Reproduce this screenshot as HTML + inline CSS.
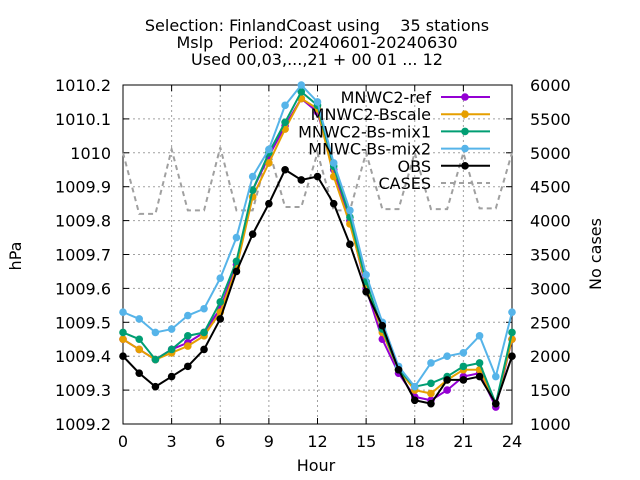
<!DOCTYPE html>
<html><head><meta charset="utf-8"><style>
body{margin:0;background:#fff}
svg{display:block;font-family:"DejaVu Sans","Liberation Sans",sans-serif}
</style></head><body>
<svg id="chart" width="640" height="480" xmlns="http://www.w3.org/2000/svg">
<g font-size="16" text-anchor="middle" fill="#000">
<text x="317" y="31" xml:space="preserve">Selection: FinlandCoast using    35 stations</text>
<text x="317" y="48" xml:space="preserve">Mslp   Period: 20240601-20240630</text>
<text x="317" y="65">Used 00,03,...,21 + 00 01 ... 12</text>
</g>
<g id="grid"></g>
<g id="axes"></g>
<g id="series"></g>
<g id="legend"></g>
<text x="316" y="471" font-size="16" text-anchor="middle">Hour</text>
<text x="0" y="0" font-size="16" text-anchor="middle" transform="translate(21,256) rotate(-90)">hPa</text>
<text x="0" y="0" font-size="16" text-anchor="middle" transform="translate(601,254) rotate(-90)">No cases</text>
</svg>
<script>
const hours=[0,1,2,3,4,5,6,7,8,9,10,11,12,13,14,15,16,17,18,19,20,21,22,23,24];
const xTicks=[0,3,6,9,12,15,18,21,24];
const yTicks=[1009.2,1009.3,1009.4,1009.5,1009.6,1009.7,1009.8,1009.9,1010,1010.1,1010.2];
const yTickLabels=["1009.2","1009.3","1009.4","1009.5","1009.6","1009.7","1009.8","1009.9","1010","1010.1","1010.2"];
const y2Ticks=[1000,1500,2000,2500,3000,3500,4000,4500,5000,5500,6000];
const mnwcRef=[1009.45,1009.42,1009.39,1009.42,1009.44,1009.47,1009.54,1009.67,1009.89,1009.99,1010.08,1010.16,1010.12,1009.95,1009.80,1009.60,1009.45,1009.35,1009.28,1009.27,1009.30,1009.34,1009.35,1009.25,1009.45];
const mnwcBscale=[1009.45,1009.42,1009.39,1009.41,1009.43,1009.46,1009.53,1009.66,1009.87,1009.97,1010.07,1010.16,1010.13,1009.93,1009.79,1009.61,1009.47,1009.36,1009.30,1009.29,1009.33,1009.36,1009.36,1009.26,1009.45];
const mnwcMix1=[1009.47,1009.45,1009.39,1009.42,1009.46,1009.47,1009.56,1009.68,1009.89,1010.00,1010.09,1010.18,1010.14,1009.96,1009.81,1009.62,1009.48,1009.36,1009.31,1009.32,1009.34,1009.37,1009.38,1009.26,1009.47];
const mnwcMix2=[1009.53,1009.51,1009.47,1009.48,1009.52,1009.54,1009.63,1009.75,1009.93,1010.01,1010.14,1010.20,1010.15,1009.97,1009.83,1009.64,1009.50,1009.37,1009.31,1009.38,1009.40,1009.41,1009.46,1009.34,1009.53];
const obs=[1009.40,1009.35,1009.31,1009.34,1009.37,1009.42,1009.51,1009.65,1009.76,1009.85,1009.95,1009.92,1009.93,1009.85,1009.73,1009.59,1009.49,1009.36,1009.27,1009.26,1009.33,1009.33,1009.34,1009.26,1009.40];
const cases=[5000,4100,4100,5050,4150,4150,5080,4150,4150,5050,4200,4200,5000,4150,4150,5000,4170,4170,5000,4170,4170,5000,4180,4180,5000];

const L=123,R=512,T=85,B=424;
const X=h=>L+(h-0)/24*(R-L);
const Y=v=>B-(v-1009.2)/1.0*(B-T);
const Y2=v=>B-(v-1000)/5000*(B-T);
const NS="http://www.w3.org/2000/svg";
function mk(tag,parent){const e=document.createElementNS(NS,tag);parent.appendChild(e);return e;}
const grid=document.getElementById('grid'),axes=document.getElementById('axes'),ser=document.getElementById('series'),leg=document.getElementById('legend');

xTicks.forEach(t=>{
 const g=mk('line',grid);g.setAttribute('x1',X(t));g.setAttribute('x2',X(t));g.setAttribute('y1',T);g.setAttribute('y2',B);g.setAttribute('stroke','#a0a0a0');g.setAttribute('stroke-dasharray','2,3');
 
 
 const tx=mk('text',axes);tx.textContent=t;tx.setAttribute('x',X(t));tx.setAttribute('y',447);tx.setAttribute('font-size','16');tx.setAttribute('text-anchor','middle');
 
 
 [[B,B-6],[T,T+6]].forEach(p=>{const k=mk('line',axes);k.setAttribute('x1',X(t));k.setAttribute('x2',X(t));k.setAttribute('y1',p[0]);k.setAttribute('y2',p[1]);k.setAttribute('stroke','#000');});
});
yTicks.forEach((t,i)=>{
 const g=mk('line',grid);g.setAttribute('x1',L);g.setAttribute('x2',R);g.setAttribute('y1',Y(t));g.setAttribute('y2',Y(t));g.setAttribute('stroke','#a0a0a0');g.setAttribute('stroke-dasharray','2,3');
 
 
 const tx=mk('text',axes);tx.textContent=yTickLabels[i];tx.setAttribute('x',111);tx.setAttribute('y',Y(t)+6);tx.setAttribute('font-size','16');tx.setAttribute('text-anchor','end');
 
 
 const k=mk('line',axes);k.setAttribute('x1',L);k.setAttribute('x2',L+6);k.setAttribute('y1',Y(t));k.setAttribute('y2',Y(t));k.setAttribute('stroke','#000');
});
y2Ticks.forEach(t=>{
 const tx=mk('text',axes);tx.textContent=t;tx.setAttribute('x',530);tx.setAttribute('y',Y2(t)+6);tx.setAttribute('font-size','16');
 
 
 const k=mk('line',axes);k.setAttribute('x1',R);k.setAttribute('x2',R-6);k.setAttribute('y1',Y2(t));k.setAttribute('y2',Y2(t));k.setAttribute('stroke','#000');
});
const box=mk('rect',axes);box.setAttribute('x',L);box.setAttribute('y',T);box.setAttribute('width',R-L);box.setAttribute('height',B-T);box.setAttribute('fill','none');box.setAttribute('stroke','#000');



const cp=mk('polyline',ser);
cp.setAttribute('points',hours.map((h,i)=>X(h)+','+Y2(cases[i])).join(' '));
cp.setAttribute('fill','none');cp.setAttribute('stroke','#a0a0a0');cp.setAttribute('stroke-width','2');cp.setAttribute('stroke-dasharray','5,4');



const series=[
 {name:'MNWC2-ref',vals:mnwcRef,col:'#9400d3'},
 {name:'MNWC2-Bscale',vals:mnwcBscale,col:'#e69f00'},
 {name:'MNWC2-Bs-mix1',vals:mnwcMix1,col:'#009e73'},
 {name:'MNWC-Bs-mix2',vals:mnwcMix2,col:'#56b4e9'},
 {name:'OBS',vals:obs,col:'#000000'}
];
function marker(parent,x,y,col){const c=mk('circle',parent);c.setAttribute('cx',x);c.setAttribute('cy',y);c.setAttribute('r',3.8);c.setAttribute('fill',col);return c;}
series.forEach(s=>{
 const g=mk('g',ser);
 
 
 const p=mk('polyline',g);p.setAttribute('points',hours.map((h,i)=>X(h)+','+Y(s.vals[i])).join(' '));
 p.setAttribute('fill','none');p.setAttribute('stroke',s.col);p.setAttribute('stroke-width','2');
 hours.forEach((h,i)=>{const c=marker(g,X(h),Y(s.vals[i]),s.col);
  
  });
});
const legItems=series.map(s=>({name:s.name,col:s.col,dash:false})).concat([{name:'CASES',col:'#a0a0a0',dash:true}]);
legItems.forEach((it,i)=>{
 const y=97+i*17.2;
 const g=mk('g',leg);
 
 
 const t=mk('text',g);t.textContent=it.name;t.setAttribute('x',431);t.setAttribute('y',y+6);t.setAttribute('font-size','16');t.setAttribute('text-anchor','end');
 const l=mk('line',g);l.setAttribute('x1',441);l.setAttribute('x2',490);l.setAttribute('y1',y);l.setAttribute('y2',y);l.setAttribute('stroke',it.col);l.setAttribute('stroke-width','2');
 if(it.dash)l.setAttribute('stroke-dasharray','5,4');else marker(g,465,y,it.col);
});
</script>
</body></html>
